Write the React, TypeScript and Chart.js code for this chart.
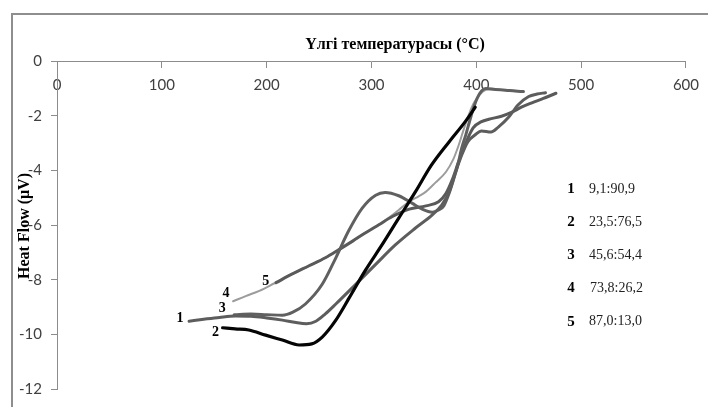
import React, { useEffect, useRef } from "react";
import { Chart, registerables } from "chart.js";

Chart.register(...registerables);

// Axis ticks
const xTickValues = [0, 100, 200, 300, 400, 500, 600];
const yTickValues = [0, -2, -4, -6, -8, -10, -12];

// Series (temperature °C, heat flow µV)
const x1 = [126, 140, 155, 170, 185, 200, 215, 228, 238, 247, 256, 266, 285, 304, 323, 342, 358, 367, 374, 380, 386, 392, 399, 405, 414, 421, 431, 440, 450, 458, 466];
const y1 = [-9.52, -9.45, -9.38, -9.33, -9.34, -9.4, -9.48, -9.57, -9.61, -9.52, -9.25, -8.89, -8.17, -7.44, -6.72, -6.11, -5.63, -5.27, -4.8, -4.1, -3.45, -2.95, -2.7, -2.56, -2.6, -2.42, -2.05, -1.6, -1.3, -1.21, -1.16];

const x2 = [158, 170, 183, 199, 215, 231, 243, 253, 266, 279, 294, 310, 326, 342, 357, 374, 390, 399];
const y2 = [-9.76, -9.8, -9.84, -10.03, -10.21, -10.39, -10.35, -10.1, -9.48, -8.65, -7.67, -6.73, -5.75, -4.78, -3.82, -2.96, -2.19, -1.69];

const x3 = [169, 185, 200, 215, 225, 237, 253, 266, 278, 291, 304, 313, 326, 339, 348, 358, 364, 369, 374, 379, 383, 386, 390, 394, 397, 401, 405, 409, 418, 428, 437, 445];
const y3 = [-9.28, -9.26, -9.28, -9.3, -9.19, -8.89, -8.17, -7.2, -6.23, -5.39, -4.91, -4.81, -4.93, -5.21, -5.41, -5.53, -5.45, -5.3, -4.85, -4.25, -3.7, -3.2, -2.7, -2.15, -1.76, -1.35, -1.1, -1.01, -1.04, -1.07, -1.1, -1.12];

const x4 = [168, 180, 193, 207, 224, 240, 256, 269, 282, 294, 307, 317, 326, 336, 345, 352, 361, 371, 378, 383, 388, 393, 397, 402, 406, 412, 425, 440];
const y4 = [-8.79, -8.6, -8.41, -8.14, -7.8, -7.5, -7.2, -6.9, -6.59, -6.29, -5.99, -5.72, -5.45, -5.14, -4.95, -4.78, -4.45, -4.06, -3.6, -3.1, -2.5, -1.95, -1.58, -1.3, -1.12, -1.03, -1.06, -1.1];

const x5 = [209, 224, 240, 256, 269, 282, 294, 307, 320, 336, 352, 364, 371, 377, 383, 390, 397, 405, 412, 424, 434, 443, 453, 464, 476];
const y5 = [-8.11, -7.8, -7.5, -7.2, -6.9, -6.59, -6.29, -5.99, -5.69, -5.42, -5.3, -5.15, -4.85, -4.35, -3.7, -3.0, -2.45, -2.22, -2.13, -2.02, -1.87, -1.69, -1.53, -1.37, -1.18];

// Curve number labels (placed in data coordinates)
const curveLabels = ["1", "2", "3", "4", "5"];
const curveLabelX = [117.4, 151.2, 157.6, 161.2, 199.2];
const curveLabelY = [-9.43, -9.94, -9.05, -8.5, -8.07];

// Legend table
const legendNums = ["1", "2", "3", "4", "5"];
const legendTexts = ["9,1:90,9", "23,5:76,5", "45,6:54,4", "73,8:26,2", "87,0:13,0"];

const titleText = "Үлгі температурасы (°C)";
const yTitleText = "Heat Flow (μV)";

const zip = (xs: number[], ys: number[]) => xs.map((x, i) => ({ x, y: ys[i] }));

const overlayPlugin = {
  id: "overlay",
  afterDatasetsDraw(chart: any) {
    const ctx = chart.ctx as CanvasRenderingContext2D;
    const xs = chart.scales.x;
    const ys = chart.scales.y;
    const area = chart.chartArea;
    ctx.save();
    ctx.fillStyle = "#000";
    // curve labels
    ctx.font = 'bold 14px "Liberation Serif"';
    ctx.textAlign = "center";
    ctx.textBaseline = "middle";
    curveLabels.forEach((t, i) => {
      ctx.fillText(t, xs.getPixelForValue(curveLabelX[i]), ys.getPixelForValue(curveLabelY[i]));
    });
    // title
    ctx.font = 'bold 16px "Liberation Serif"';
    ctx.fillText(titleText, area.left + 338, 45);
    // y title
    ctx.save();
    ctx.translate(25, 226);
    ctx.rotate(-Math.PI / 2);
    ctx.fillText(yTitleText, 0, 0);
    ctx.restore();
    // legend table
    legendNums.forEach((n, i) => {
      const yy = 189 + i * 33.2;
      ctx.font = 'bold 15px "Liberation Serif"';
      ctx.textAlign = "center";
      ctx.fillStyle = "#000";
      ctx.fillText(n, 571, yy);
      ctx.font = '14px "Liberation Serif"';
      ctx.textAlign = "left";
      ctx.fillStyle = "#222";
      ctx.fillText(legendTexts[i], i === 3 ? 590 : 589, yy);
    });
    ctx.restore();
  },
};

export default function App() {
  const canvasRef = useRef<HTMLCanvasElement | null>(null);

  useEffect(() => {
    document.body.style.margin = "0";
    const canvas = canvasRef.current;
    if (!canvas) return;
    const common = {
      showLine: true,
      pointRadius: 0,
      pointHoverRadius: 0,
      cubicInterpolationMode: "monotone" as const,
      fill: false,
      borderCapStyle: "round" as const,
      borderJoinStyle: "round" as const,
    };
    const chart = new Chart(canvas, {
      type: "scatter",
      data: {
        datasets: [
          { ...common, label: "2", data: zip(x2, y2), borderColor: "#050505", borderWidth: 3.2 },
          { ...common, label: "1", data: zip(x1, y1), borderColor: "#5d5d5d", borderWidth: 3 },
          { ...common, label: "3", data: zip(x3, y3), borderColor: "#606060", borderWidth: 3 },
          { ...common, label: "5", data: zip(x5, y5), borderColor: "#5a5a5a", borderWidth: 3 },
          { ...common, label: "4", data: zip(x4, y4), borderColor: "#9c9c9c", borderWidth: 2 },
        ],
      },
      options: {
        responsive: false,
        animation: false,
        events: [],
        layout: { padding: { left: 0, top: 61, right: 20, bottom: 14 } },
        plugins: { legend: { display: false }, title: { display: false }, tooltip: { enabled: false } },
        scales: {
          x: {
            type: "linear",
            position: { y: 0 } as any,
            min: 0,
            max: 600,
            afterBuildTicks: (s: any) => {
              s.ticks = xTickValues.map((v) => ({ value: v }));
            },
            ticks: { color: "#404040", font: { family: "Lato", size: 15 }, padding: 9 },
            grid: { drawOnChartArea: false, drawTicks: true, tickLength: 6, color: "#8c8c8c" },
            border: { display: true, color: "#8c8c8c", width: 1 },
          },
          y: {
            type: "linear",
            min: -12,
            max: 0,
            afterBuildTicks: (s: any) => {
              s.ticks = yTickValues.map((v) => ({ value: v }));
            },
            afterFit: (s: any) => {
              s.width = 57;
            },
            ticks: { color: "#404040", font: { family: "Lato", size: 15 }, padding: 9 },
            grid: { drawOnChartArea: false, drawTicks: true, tickLength: 6, color: "#8c8c8c" },
            border: { display: true, color: "#8c8c8c", width: 1 },
          },
        },
      },
      plugins: [overlayPlugin],
    });
    return () => chart.destroy();
  }, []);

  return (
    <div style={{ position: "relative", width: 708, height: 407, overflow: "hidden", background: "#fff" }}>
      <div
        style={{
          position: "absolute",
          left: 11,
          top: 13,
          width: 760,
          height: 460,
          border: "2px solid #8e8e8e",
          boxSizing: "border-box",
        }}
      />
      <canvas ref={canvasRef} width={708} height={407} style={{ position: "absolute", left: 0, top: 0 }} />
    </div>
  );
}
